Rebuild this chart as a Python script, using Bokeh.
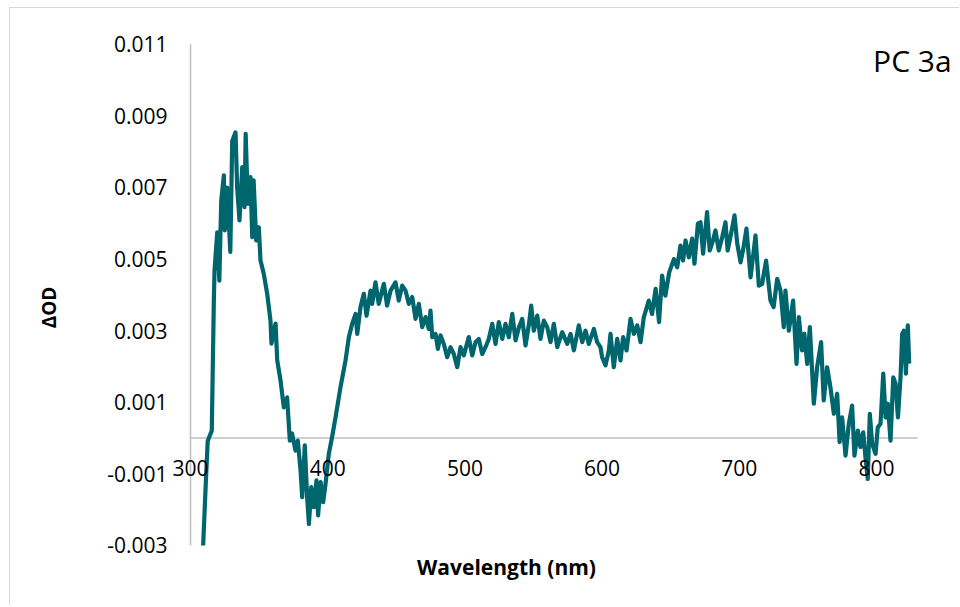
from bokeh.plotting import figure
from bokeh.models import FixedTicker, PrintfTickFormatter, Label, Range1d
from bokeh.embed import file_html
from bokeh.resources import INLINE

# ---- data ----
wavelength = [
    309.2, 311.0, 312.5, 313.3, 315.5, 317.0, 317.5, 319.5, 321.0, 322.4, 324.3, 325.0, 326.7,
    329.0, 330.4, 332.8, 334.0, 335.7, 337.7, 339.4, 340.2, 341.8, 343.7, 345.0, 346.0, 347.9,
    349.8, 351.0, 353.4, 355.9, 358.3, 359.0, 362.0, 363.2, 365.6, 368.0, 370.4, 372.4, 374.0,
    376.5, 378.2, 380.2, 381.4, 383.3, 385.0, 386.3, 388.0, 389.9, 391.8, 393.0, 394.8, 396.7,
    398.4, 400.8, 403.2, 405.7, 409.3, 413.0, 415.4, 417.8, 420.3, 421.5, 423.9,
    426.3, 428.3, 431.2, 432.4, 434.8, 437.2, 440.9, 443.3, 445.8, 449.4, 451.8, 454.3, 456.7,
    459.1, 461.6, 464.0, 466.4, 468.9, 471.3, 473.7, 474.9, 476.2, 478.6, 480.3, 482.2, 484.6,
    487.1, 489.5, 491.9, 494.4, 496.8, 499.2, 502.8, 505.3, 507.7, 510.1, 512.6, 515.0, 517.4,
    519.9, 522.3, 524.7, 527.2, 529.6, 532.0, 534.5, 536.9, 539.4, 541.8, 544.2, 546.7, 548.3,
    550.2, 552.7, 555.1, 557.5, 560.0, 562.4, 564.8, 567.3,
    570.9, 574.6, 577.0, 579.4, 583.0, 585.5, 587.9, 590.3, 594.0, 596.4, 598.8, 600.0, 602.5,
    604.9, 606.1, 608.5, 611.0, 613.4, 615.3, 617.8, 620.7, 623.1, 625.6, 628.0,
    630.4, 634.0, 636.4, 639.0, 641.5, 643.7, 646.1, 648.9, 652.3, 654.7, 657.1, 659.0, 660.8,
    663.2, 665.6, 667.3, 669.8, 671.7, 673.6, 676.5, 678.4, 680.8, 682.6, 685.0, 687.5, 689.9,
    691.5, 694.0, 696.5, 698.5, 700.9, 703.1, 705.2, 708.2, 711.8, 714.2, 716.6, 719.5, 722.7,
    725.0, 727.6,
    730.0, 732.4, 733.6, 736.1, 739.2, 741.7, 743.4, 745.7, 747.4, 749.5, 751.4, 754.3, 756.7,
    759.6, 761.5, 764.0, 766.4, 768.9, 771.3, 773.1, 774.9, 777.4, 779.8, 782.2, 783.9, 786.4,
    788.3, 790.3, 791.9, 793.6, 795.1, 796.8, 799.3, 800.9, 802.9, 804.9, 806.6, 808.2, 810.2,
    812.2, 813.9, 815.6, 817.5, 818.7, 819.9, 821.4, 822.8, 823.8,
]
delta_od = [
    -0.0030, -0.00138, -0.0001, 0.0000, 0.0002, 0.00384, 0.00468, 0.00575, 0.0044, 0.00664, 0.00734, 0.0058, 0.0070,
    0.0052, 0.0083, 0.00854, 0.0070, 0.00608, 0.00757, 0.00645, 0.0085, 0.00655, 0.00729, 0.00561, 0.0072, 0.00552,
    0.00589, 0.00496, 0.00459, 0.00403, 0.00328, 0.00264, 0.0032, 0.00217, 0.00161, 0.00086, 0.00114, -0.00007, 0.00013,
    -0.00035, -0.00007, -0.0009, -0.00165, -0.0002, -0.00165, -0.0024, -0.00137, -0.00193, -0.00118, -0.00216, -0.00123, -0.00179,
    -0.00128, -0.00044, 0.00003, 0.00058, 0.00142, 0.00217, 0.00282, 0.00319, 0.00347, 0.00291, 0.00366,
    0.00403, 0.00342, 0.00412, 0.00375, 0.00435, 0.00375, 0.00431, 0.0037, 0.00412, 0.00435, 0.00384, 0.00426, 0.00412,
    0.00375, 0.00394, 0.00333, 0.00375, 0.0031, 0.00338, 0.00305, 0.00356, 0.00282, 0.00291, 0.00249, 0.00287, 0.00263,
    0.00226, 0.00254, 0.00235, 0.00198, 0.00254, 0.00231, 0.00282, 0.00231, 0.00268, 0.00277, 0.00235, 0.00254, 0.00277,
    0.00319, 0.00263, 0.00324, 0.00277, 0.00319, 0.00282, 0.00347, 0.00273, 0.0031, 0.00333, 0.00259, 0.00319, 0.0037,
    0.0030, 0.00342, 0.00277, 0.00328, 0.0031, 0.00268, 0.00319, 0.00254,
    0.00296, 0.00263, 0.00291, 0.00245, 0.00315, 0.00268, 0.0030, 0.00263, 0.00305, 0.00268, 0.00254, 0.00226, 0.00203,
    0.00245, 0.00291, 0.00198, 0.00277, 0.00217, 0.00282, 0.00245, 0.00333, 0.00291, 0.00315, 0.00268,
    0.00338, 0.00384, 0.00347, 0.00417, 0.00324, 0.00454, 0.00398, 0.00463, 0.0050, 0.00477, 0.00538, 0.00496, 0.00552,
    0.00505, 0.00557, 0.00487, 0.00599, 0.00603, 0.00515, 0.00631, 0.00524, 0.00552, 0.0058, 0.00524, 0.00561, 0.00603,
    0.00524, 0.00571, 0.00622, 0.00543, 0.00491, 0.00533, 0.00585, 0.00449, 0.00566, 0.00426, 0.00431, 0.00496, 0.00384,
    0.00366, 0.00445,
    0.00412, 0.0031, 0.00412, 0.0030, 0.00384, 0.00207, 0.00338, 0.00245, 0.00291, 0.00207, 0.0031, 0.00096, 0.00198,
    0.00268, 0.00105, 0.00198, 0.00142, 0.00068, 0.00124, -0.00011, 0.00058, -0.00049, 0.0004, 0.00091, -0.00049, 0.00021,
    -0.00025, 0.00016, -0.00053, -0.00114, 0.00068, -0.00016, -0.00044, 0.0003, 0.0004, 0.0018, 0.00058, 0.00096, -0.00007,
    0.0017, 0.00152, 0.00058, 0.0017, 0.00291, 0.0030, 0.0018, 0.00315, 0.00208,
]
x_ticks = [300, 400, 500, 600, 700, 800]
y_ticks = [-0.003, -0.001, 0.001, 0.003, 0.005, 0.007, 0.009, 0.011]
x_axis_min, x_axis_max = 300, 830
y_axis_min, y_axis_max = -0.003, 0.011
x_title = "Wavelength (nm)"
y_title = "ΔOD"
series_name = "PC 3a"

FONT = "Open Sans"
AXIS_GRAY = "#BFBFBF"

# the frame fills the whole canvas; axes are drawn at fixed data locations
p = figure(width=950, height=598, output_backend="svg", toolbar_location=None,
           x_range=Range1d(168.8, 861.2), y_range=Range1d(-0.004704, 0.0120),
           min_border_left=0, min_border_right=0, min_border_top=0, min_border_bottom=0)
p.title.visible = False
p.outline_line_color = None
p.grid.visible = False
p.background_fill_color = "white"
p.border_fill_color = "white"
p.styles = {"margin-left": "9px", "margin-top": "7px",
            "border-left": "1px solid #D9D9D9", "border-top": "1px solid #D9D9D9"}

# axis lines
p.segment(x0=[x_axis_min, x_axis_min], y0=[0, y_axis_min],
          x1=[x_axis_max, x_axis_min], y1=[0, y_axis_max],
          line_color=AXIS_GRAY, line_width=1.5)

p.line(wavelength, delta_od, line_color="#00666E", line_width=4.2, line_join="round")

xa = p.xaxis[0]
xa.fixed_location = 0
xa.ticker = FixedTicker(ticks=x_ticks)
xa.axis_line_color = None
xa.major_tick_line_color = None
xa.minor_tick_line_color = None
xa.major_label_standoff = 16
xa.major_label_text_font = FONT
xa.major_label_text_font_size = "21px"
xa.major_label_text_color = "black"

ya = p.yaxis[0]
ya.fixed_location = x_axis_min
ya.ticker = FixedTicker(ticks=y_ticks)
ya.formatter = PrintfTickFormatter(format="%.3f")
ya.axis_line_color = None
ya.major_tick_line_color = None
ya.minor_tick_line_color = None
ya.major_label_standoff = 17
ya.major_label_text_font = FONT
ya.major_label_text_font_size = "21px"
ya.major_label_text_color = "black"
ya.axis_label = y_title
ya.axis_label_text_font = FONT
ya.axis_label_text_font_style = "bold"
ya.axis_label_text_font_size = "19px"
ya.axis_label_standoff = 42
ya.axis_label_text_color = "black"

p.add_layout(Label(x=530.3, y=-0.00361, text=x_title, text_font=FONT, text_font_style="bold",
                   text_font_size="21px", text_align="center", text_baseline="middle",
                   text_color="black"))
p.add_layout(Label(x=797.5, y=0.01055, text=series_name, text_font=FONT,
                   text_font_size="30px", text_align="left", text_baseline="middle",
                   text_color="black"))

open("out.html", "w").write(file_html(p, INLINE))
